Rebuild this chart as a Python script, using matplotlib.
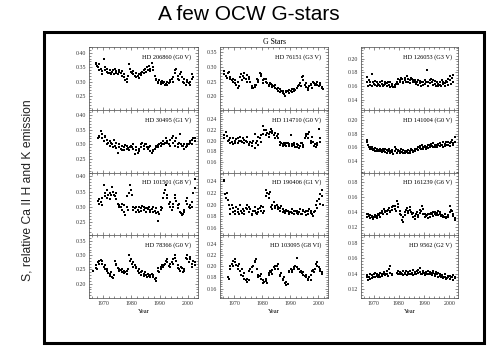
import matplotlib
matplotlib.use("Agg")
import matplotlib.pyplot as plt
from matplotlib.ticker import MultipleLocator, FixedLocator, FormatStrFormatter
from matplotlib.patches import Rectangle

plt.rcParams['font.family'] = ['Liberation Serif', 'DejaVu Serif']

N = None
seasons = [1966, 1967, 1968, 1969, 1970, 1971, 1972, 1973, 1974, 1975,
           1976, 1977, 1978, 1979, 1980, 1981, 1982, 1983, 1984, 1985,
           1986, 1987, 1988, 1989, 1990, 1991, 1992, 1993, 1994, 1995,
           1996, 1997, 1998, 1999, 2000, 2001, 2002]
offsets = [0.3, 0.5, 0.7]

hd206860 = [[N,N,N],[.365,.360,.355],[.350,.362,.340],[.345,.325,.338],[.378,.350,.340],[.335,.345,.330],
    [.340,.330,.325],[.335,.342,.328],[.345,.330,.336],[.325,.340,.332],[.330,.320,.338],[.315,.328,.305],
    [.310,.300,.318],[.360,.345,.335],[.330,.325,.338],[.320,.330,.315],[.318,.325,.312],[.322,.330,.335],
    [.340,.330,.345],[.335,.350,.340],[.355,.345,.338],[.365,.340,.350],[.320,.305,.310],[.300,.295,.305],
    [.298,.292,.302],[.295,.300,.290],[.292,.300,.288],[.295,.305,.300],[.310,.300,.315],[.330,.340,.345],
    [.320,.310,.305],[.325,.335,.315],[.300,.310,.295],[.290,.300,.305],[.295,.288,.300],[.310,.325,.315],[N,N,N]]
hd30495 = [[N,N,N],[N,N,N],[.320,.330,.325],[.345,.320,.335],[.310,.325,.330],[.300,.315,.305],
    [.310,.295,.305],[.300,.290,.315],[.295,.305,.288],[.270,.300,.292],[.285,.295,.280],[.290,.282,.298],
    [.285,.295,.288],[.280,.290,.295],[.292,.285,.300],[.268,.280,.290],[.272,.285,.278],[.300,.290,.305],
    [.295,.285,.302],[.300,.292,.285],[.290,.278,.295],[.270,.282,.276],[.285,.295,.290],[.298,.290,.302],
    [.295,.305,.300],[.310,.300,.305],[.320,.305,.312],[.300,.315,.295],[.320,.305,.330],[.310,.295,.320],
    [.300,.290,.305],[.335,.300,.295],[.295,.285,.300],[.290,.300,.295],[.300,.310,.305],[.315,.300,.320],[.310,.320,N]]
hd101501 = [[N,N,N],[N,N,N],[.320,.310,.325],[.315,.330,.305],[.370,.345,.335],[.355,.330,.340],
    [.325,.345,.338],[.365,.350,.340],[.335,.325,.345],[.310,.305,.300],[.300,.310,.290],[.285,.305,.275],
    [.335,.300,.290],[.345,.370,.355],[.340,.300,.290],[.295,.285,.300],[.290,.300,.285],[.295,.288,.302],
    [.300,.290,.295],[.285,.298,.292],[.300,.290,.285],[.292,.285,.300],[.288,.280,.295],[.255,.285,.278],
    [.290,.300,.295],[.330,.345,.355],[.370,.340,.330],[.310,.300,.315],[.290,.310,.300],[.330,.340,.320],
    [.305,.295,.310],[.285,.280,.275],[.278,.290,.285],[.320,.330,.310],[.300,.305,.295],[.315,.300,.345],[.360,.390,N]]
hd78366 = [[N,.243,N],[.255,.265,.250],[.275,.268,.280],[.282,.270,.278],[.260,.250,.265],[.245,.250,.238],
    [.235,.228,.242],[.225,.220,.230],[.280,.265,.270],[.255,.250,.245],[.248,.240,.252],[.238,.245,.240],
    [.245,.235,.250],[.300,.280,.285],[.270,.260,.275],[.265,.255,.260],[.245,.238,.250],[.240,.232,.245],
    [.235,.228,.240],[.230,.225,.235],[.228,.232,.225],[.235,.230,.225],[.215,.210,.220],[.245,.255,.240],
    [.260,.250,.265],[.258,.265,.270],[.280,.275,.285],[.262,.270,.258],[.275,.285,.270],[.300,.290,.280],
    [.265,.255,.250],[.245,.260,.255],[.240,.250,.245],[.290,.300,.285],[.275,.285,.295],[.270,.260,.280],[.265,.275,N]]
hd76151 = [[.285,.275,N],[.270,.262,.280],[.282,.265,.260],[.255,.248,.260],[.245,.255,.240],[.250,.228,.235],
    [.265,.275,.255],[.270,.280,.262],[.260,.250,.272],[.258,.265,.248],[.235,.230,.228],[.232,.240,.238],
    [.260,.255,.250],[.280,.275,.270],[.255,.245,.260],[.250,.258,.245],[.240,.235,.245],[.242,.232,.238],
    [.235,.240,.228],[.225,.220,.230],[.215,.225,.220],[.212,.218,.208],[.202,.215,.220],[.218,.222,.212],
    [.220,.215,.225],[.225,.218,.222],[.230,.228,.235],[.238,.245,.235],[.265,.255,.270],[.238,.232,.245],
    [.228,.222,.235],[.238,.242,.230],[.250,.245,.240],[.242,.248,.238],[.235,.245,.240],[.232,.228,.225],[N,N,N]]
hd114710 = [[.205,.210,N],[.216,.208,.200],[.202,.196,.205],[.198,.204,.194],[.200,.195,.203],[.196,.205,.200],
    [.207,.200,.198],[.204,.196,.202],[.200,.206,.198],[.194,.192,.198],[.196,.190,.200],[.213,.186,.195],
    [.200,.206,.192],[.205,.198,.210],[.228,.212,.220],[.219,.210,.215],[.212,.207,.216],[.222,.218,.214],
    [.210,.205,.215],[.208,.212,.204],[.198,.192,.196],[.194,.190,.196],[.192,.195,.190],[.196,.190,.193],
    [.210,.194,.190],[.192,.196,.188],[.194,.188,.192],[.186,.190,.195],[.196,.192,.188],[.205,.213,.208],
    [.212,.205,.216],[.200,.195,.207],[.198,.190,.194],[.188,.192,.196],[.222,.198,.205],[N,N,N],[N,N,N]]
hd190406 = [[.240,.243,.218],[.212,.220,.208],[.200,.192,.185],[.200,.188,.194],[.190,.184,.196],[.188,.192,.185],
    [.200,.190,.186],[.192,.185,.189],[.195,.200,.193],[.197,.188,.193],[.185,.182,.190],[.190,.196,.186],
    [.184,.192,.188],[.194,.198,.190],[.186,.196,.190],[.215,.225,.220],[.218,.212,.222],[.196,.193,.200],
    [.205,.198,.194],[.200,.192,.197],[.190,.195,.198],[.192,.188,.190],[.186,.191,.189],[.190,.185,.188],
    [.187,.192,.186],[.190,.185,.189],[.186,.190,.184],[.188,.192,.185],[.184,.189,.191],[.187,.183,.190],
    [.189,.185,.192],[.186,.190,.184],[.180,.188,.190],[.200,.206,.195],[.210,.218,.202],[.225,.215,.200],[N,N,N]]
hd103095 = [[N,N,N],[N,N,.180],[.178,.195,.200],[.205,.200,.210],[.208,.213,.202],[.200,.195,.205],
    [.192,.185,.195],[.182,.178,.188],[.175,.172,.178],[.176,.192,.195],[.198,.190,.200],[.210,.207,.213],
    [.196,.185,.180],[.182,.178,.186],[.175,.170,.172],[.173,.178,.170],[.188,.185,.192],[.190,.193,.186],
    [.198,.195,.200],[.200,.196,.205],[.185,.182,.188],[.178,.175,.180],[.170,.166,.172],[.168,.190,.192],
    [.195,.190,.193],[.198,.195,.200],[.215,.198,.196],[.195,.190,.192],[.188,.185,.190],[.182,.180,.185],
    [.178,.176,.180],[.175,.185,.192],[.193,.190,.195],[.205,.208,.200],[.198,.192,.196],[.190,.187,N],[N,N,N]]
hd126053 = [[N,N,N],[.173,.165,.160],[.168,.162,.165],[.177,.160,.166],[.163,.167,.161],[.165,.160,.163],
    [.162,.166,.160],[.167,.163,.160],[.161,.165,.163],[.164,.160,.166],[.162,.158,.165],[.160,.163,.158],
    [.161,.159,.163],[.166,.170,.163],[.168,.165,.172],[.170,.166,.164],[.168,.172,.165],[.175,.166,.170],
    [.168,.164,.172],[.170,.166,.168],[.165,.168,.163],[.166,.162,.168],[.164,.167,.160],[.166,.162,.165],
    [.168,.163,.166],[.183,.165,.160],[.168,.164,.170],[.166,.162,.169],[.163,.167,.160],[.165,.160,.163],
    [.162,.166,.160],[.168,.163,.165],[.160,.164,.167],[.166,.162,.170],[.175,.168,.163],[.172,.165,.176],[N,N,N]]
hd141004 = [[N,N,N],[.168,.171,.163],[.160,.157,.161],[.158,.161,.156],[.157,.154,.159],[.158,.155,.156],
    [.154,.157,.155],[.156,.153,.158],[.155,.158,.153],[.152,.156,.154],[.157,.151,.155],[.153,.156,.150],
    [.161,.155,.158],[.152,.156,.154],[.155,.151,.157],[.153,.156,.152],[.155,.152,.154],[.153,.156,.151],
    [.154,.152,.157],[.156,.153,.155],[.158,.155,.157],[.157,.160,.156],[.159,.162,.157],[.163,.158,.161],
    [.160,.162,.158],[.161,.164,.159],[.163,.160,.165],[.162,.166,.160],[.164,.161,.163],[.160,.165,.163],
    [.166,.162,.164],[.163,.167,.161],[.165,.162,.168],[.163,.167,.164],[.166,.162,.168],[.170,.164,.166],[.175,.168,N]]
hd161239 = [[N,N,N],[.137,.134,.138],[.135,.132,.136],[.133,.135,.131],[.134,.136,.133],[.135,.132,.137],
    [.136,.133,.139],[.139,.142,.137],[.144,.140,.142],[.141,.138,.143],[.145,.142,.140],[.146,.143,.148],
    [.148,.144,.142],[.154,.150,.147],[.142,.138,.136],[.130,.127,.134],[.140,.136,.143],[.145,.141,.139],
    [.143,.146,.140],[.137,.133,.139],[.135,.131,.138],[.140,.136,.134],[.139,.143,.141],[.148,.144,.138],
    [.137,.133,.135],[.136,.132,.138],[.134,.137,.139],[.138,.135,.140],[.140,.137,.136],[.139,.141,.136],
    [.137,.140,.135],[.136,.133,.135],[.134,.137,.132],[.133,.136,.134],[.148,.140,.143],[.141,.138,.135],[.130,.132,N]]
hd9562 = [[N,N,N],[.135,.138,.132],[.136,.133,.139],[.134,.138,.136],[.139,.136,.141],[.137,.140,.135],
    [.138,.141,.136],[.140,.137,.139],[.142,.138,.140],[.139,.143,.137],[.146,.150,.141],[.140,.138,N],
    [N,N,N],[.141,.143,.140],[.142,.139,.141],[.140,.143,.138],[.141,.139,.143],[.138,.142,.140],
    [.143,.140,.139],[.141,.144,.138],[.140,.142,.139],[.143,.141,.144],[.142,.147,.140],[.139,.143,.141],
    [.141,.138,.142],[.140,.143,.139],[.142,.139,.141],[.138,.141,.143],[.140,.137,.142],[.139,.141,.136],
    [.137,.140,.135],[.138,.134,.136],[.136,.139,.133],[.134,.137,.135],[.137,.133,.136],[.135,.138,.132],[.134,.136,N]]

# grid: rows x columns
panel_data = [[hd206860, hd76151, hd126053],
              [hd30495, hd114710, hd141004],
              [hd101501, hd190406, hd161239],
              [hd78366, hd103095, hd9562]]
panel_labels = [["HD 206860 (G0 V)", "HD 76151 (G3 V)", "HD 126053 (G3 V)"],
                ["HD 30495 (G1 V)", "HD 114710 (G0 V)", "HD 141004 (G0 V)"],
                ["HD 101501 (G8 V)", "HD 190406 (G1 V)", "HD 161239 (G6 V)"],
                ["HD 78366 (G0 V)", "HD 103095 (G8 VI)", "HD 9562 (G2 V)"]]
panel_ylims = [[(0.203, 0.420), (0.155, 0.368), (0.125, 0.217)],
               [(0.205, 0.417), (0.140, 0.258), (0.123, 0.215)],
               [(0.208, 0.412), (0.148, 0.255), (0.1095, 0.192)],
               [(0.150, 0.370), (0.143, 0.256), (0.108, 0.190)]]
panel_yticks = [[[0.25, 0.30, 0.35, 0.40], [0.20, 0.25, 0.30, 0.35], [0.14, 0.16, 0.18, 0.20]],
                [[0.25, 0.30, 0.35, 0.40], [0.16, 0.18, 0.20, 0.22, 0.24], [0.14, 0.16, 0.18, 0.20]],
                [[0.25, 0.30, 0.35, 0.40], [0.16, 0.18, 0.20, 0.22, 0.24], [0.12, 0.14, 0.16, 0.18]],
                [[0.20, 0.25, 0.30, 0.35], [0.16, 0.18, 0.20, 0.22, 0.24], [0.12, 0.14, 0.16, 0.18]]]
xticks = [1970, 1980, 1990, 2000]
xlim = (1965.0, 2003.5)

W, H = 494, 356
fig = plt.figure(figsize=(W / 100, H / 100), dpi=100)

col_px = [(89, 198), (220, 328), (361, 458)]
row_top, row_h = 47, 62.75

for r in range(4):
    for c in range(3):
        x0, x1 = col_px[c]
        top = row_top + r * row_h
        ax = fig.add_axes([x0 / W, 1 - (top + row_h) / H, (x1 - x0) / W, row_h / H])
        xs, ys = [], []
        for s, trip in zip(seasons, panel_data[r][c]):
            for o, v in zip(offsets, trip):
                if v is not None:
                    xs.append(s + o)
                    ys.append(v)
        ax.plot(xs, ys, 's', ms=1.5, mew=0, color='black')
        ax.set_xlim(*xlim)
        ax.set_ylim(*panel_ylims[r][c])
        ax.xaxis.set_major_locator(FixedLocator(xticks))
        ax.xaxis.set_minor_locator(MultipleLocator(2))
        yt = panel_yticks[r][c]
        ax.yaxis.set_major_locator(FixedLocator(yt))
        ax.yaxis.set_minor_locator(MultipleLocator((yt[1] - yt[0]) / 5))
        ax.yaxis.set_major_formatter(FormatStrFormatter('%.2f'))
        ax.tick_params(which='both', direction='in', top=True, right=True,
                       width=0.4, colors='#333333', labelsize=4.2, pad=2)
        ax.tick_params(which='major', length=2.5)
        ax.tick_params(which='minor', length=1.3)
        for sp in ax.spines.values():
            sp.set_linewidth(0.5)
            sp.set_color('#444444')
        if r < 3:
            ax.set_xticklabels([])
        else:
            ax.set_xlabel('Year', fontsize=4.6, labelpad=2)
        ax.text(0.94, 0.84, panel_labels[r][c], transform=ax.transAxes,
                ha='right', va='center', fontsize=4.6)
        if r == 0 and c == 1:
            ax.set_title('G Stars', fontsize=5.6, pad=2)

fig.add_artist(Rectangle((43.5 / W, 1 - 343 / H), (483.5 - 43.5) / W, (343 - 31.5) / H,
                         transform=fig.transFigure, fill=False, lw=2.2, color='black'))
fig.text(249 / W, 1 - 14 / H, 'A few OCW G-stars', ha='center', va='center',
         fontsize=15, family=['Liberation Sans', 'DejaVu Sans'])
fig.text(27 / W, 1 - 190 / H, 'S, relative Ca II H and K emission', ha='center', va='center',
         rotation=90, fontsize=8.7, family=['Liberation Sans', 'DejaVu Sans'], color='#222222')

fig.savefig('out.png', dpi=100)
